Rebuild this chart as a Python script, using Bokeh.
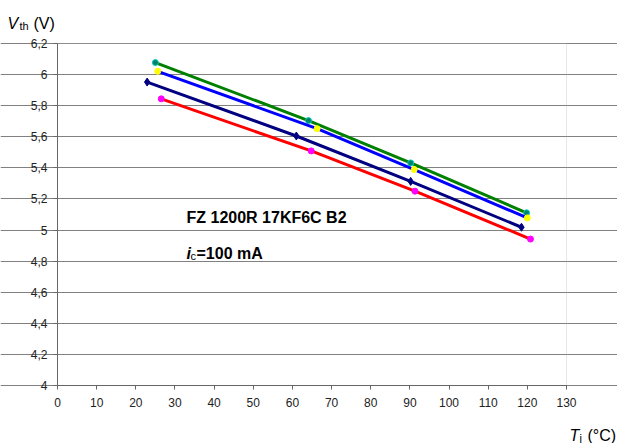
from bokeh.plotting import figure
from bokeh.models import Label, FixedTicker, Range1d, BoxAnnotation
from bokeh.embed import file_html
from bokeh.resources import INLINE

# ---- data ----
tj_green = [25.0, 64.1, 90.2, 119.8]
vth_green = [6.077, 5.704, 5.432, 5.111]

tj_blue = [25.6, 66.3, 91.1, 120.0]
vth_blue = [6.021, 5.652, 5.389, 5.078]

tj_navy = [22.9, 61.0, 90.2, 118.5]
vth_navy = [5.952, 5.605, 5.313, 5.018]

tj_red = [26.5, 64.8, 91.3, 120.8]
vth_red = [5.844, 5.509, 5.250, 4.942]

x_ticks = [0, 10, 20, 30, 40, 50, 60, 70, 80, 90, 100, 110, 120, 130]
y_ticks = [4.0, 4.2, 4.4, 4.6, 4.8, 5.0, 5.2, 5.4, 5.6, 5.8, 6.0, 6.2]
y_tick_labels = ["4", "4,2", "4,4", "4,6", "4,8", "5", "5,2", "5,4", "5,6", "5,8", "6", "6,2"]

X_MIN, X_MAX = 0, 130
Y_MIN, Y_MAX = 4.0, 6.2

FONT = "Liberation Sans"

# ---- layout: plot area in canvas pixels ----
W, H = 617, 443
LEFT, RIGHT, TOP, BOTTOM = 57, 566, 43, 385
sx = (X_MAX - X_MIN) / (RIGHT - LEFT)
sy = (Y_MAX - Y_MIN) / (BOTTOM - TOP)
x_range = Range1d(X_MIN - LEFT * sx, X_MAX + (W - RIGHT) * sx)
y_range = Range1d(Y_MIN - (H - BOTTOM) * sy, Y_MAX + TOP * sy)

p = figure(width=W, height=H, output_backend="svg", toolbar_location=None,
           x_range=x_range, y_range=y_range,
           min_border_left=0, min_border_right=0, min_border_top=0, min_border_bottom=0)
p.background_fill_color = "white"
p.border_fill_color = "white"
p.outline_line_color = None

# light border of the plot area (drawn below grid and axes)
p.add_layout(BoxAnnotation(left=X_MIN, right=X_MAX, bottom=Y_MIN, top=Y_MAX,
                           fill_color=None, fill_alpha=0, line_color="#b0b0b0",
                           line_width=1, level="underlay"))

# axes drawn at the plot-area edges
p.xaxis.fixed_location = Y_MIN
p.yaxis.fixed_location = X_MIN
p.xaxis.bounds = (X_MIN, X_MAX)
p.yaxis.bounds = (Y_MIN, Y_MAX)
p.xaxis.ticker = FixedTicker(ticks=x_ticks)
p.yaxis.ticker = FixedTicker(ticks=y_ticks)
p.yaxis.major_label_overrides = {t: l for t, l in zip(y_ticks, y_tick_labels)}
for ax in (p.xaxis, p.yaxis):
    ax.axis_line_color = "#666666"
    ax.major_tick_line_color = "#666666"
    ax.major_tick_out = 4
    ax.major_tick_in = 0
    ax.minor_tick_line_color = None
    ax.major_label_text_font = FONT
    ax.major_label_text_font_size = "12px"
    ax.major_label_text_color = "#222222"
p.xaxis.major_label_standoff = 8
p.yaxis.major_label_standoff = 6

p.xgrid.visible = False
p.ygrid.grid_line_color = "#808080"
p.ygrid.grid_line_width = 1
p.ygrid.bounds = (X_MIN, X_MAX)

# series
series = [
    (tj_green, vth_green, "#008000", "#00806a", "#00d0c0", "circle"),
    (tj_blue, vth_blue, "#0000ff", "#ffff00", "#ffff00", "circle"),
    (tj_navy, vth_navy, "#000080", "#000080", "#000080", "diamond"),
    (tj_red, vth_red, "#ff0000", "#ff00ff", "#ff00ff", "circle"),
]
for xs, ys, lc, mf, ml, mk in series:
    p.line(xs, ys, line_color=lc, line_width=3)
    p.scatter(xs, ys, marker=mk, size=6 if mk == "circle" else 8,
              fill_color=mf, line_color=ml, line_width=1)


def px_x(px):
    return X_MIN + (px - LEFT) * sx


def px_y(py):
    return Y_MAX - (py - TOP) * sy


def add_text(text, px, py, size, style="normal"):
    p.add_layout(Label(x=px_x(px), y=px_y(py), text=text, text_font=FONT,
                       text_font_size=size, text_font_style=style,
                       text_color="black", text_baseline="alphabetic"))


# annotation inside the plot
add_text("FZ 1200R 17KF6C B2", 186, 217, "16px", "bold")
add_text("i", 186, 253, "16px", "bold italic")
add_text("c", 190, 255, "11px")
add_text("=100 mA", 196, 253, "16px", "bold")

# y-axis title at top-left
add_text("V", 7, 23, "16px", "italic")
add_text("th", 19, 25, "11px")
add_text("(V)", 33, 23, "16px")

# x-axis title at bottom-right
add_text("T", 569, 435, "16px", "italic")
add_text("j", 579, 437, "11px")
add_text("(°C)", 587, 435, "16px")

open("out.html", "w").write(file_html(p, INLINE))
